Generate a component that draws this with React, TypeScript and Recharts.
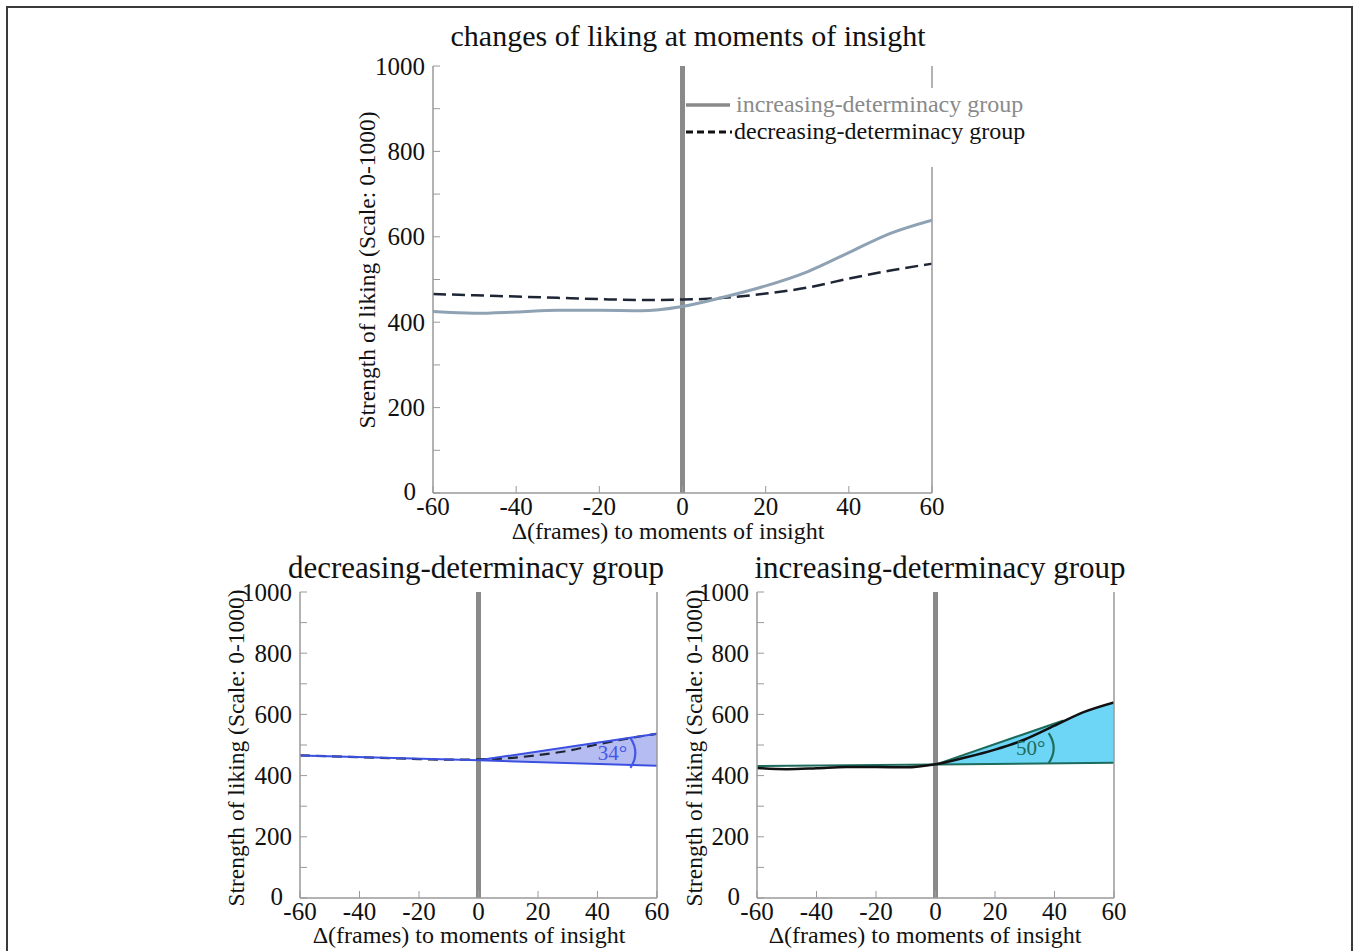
import React from "react";
import {
  ComposedChart,
  Line,
  Area,
  XAxis,
  YAxis,
  ReferenceLine,
  ReferenceDot,
  Legend,
} from "recharts";

// frames relative to the moment of insight
const frames = [-60, -50, -40, -30, -20, -10, 0, 10, 20, 30, 40, 50, 60];
const increasingLiking = [425, 421, 424, 428, 428, 427, 437, 459, 485, 518, 563, 608, 639];
const decreasingLiking = [466, 463, 460, 457, 454, 452, 453, 457, 467, 481, 502, 521, 537];

const xTicks = [-60, -40, -20, 0, 20, 40, 60];
const yTicks = [0, 100, 200, 300, 400, 500, 600, 700, 800, 900, 1000];

// fitted lines, decreasing-determinacy group
const decPreFrames = [-60, 0];
const decPre = [466, 450];
const decPostFrames = [0, 60];
const decUpper = [450, 537];
const decLower = [450, 432];

// fitted lines, increasing-determinacy group
const incPreFrames = [-60, 0];
const incPre = [431, 436];
const incUpperFrames = [0, 43];
const incUpper = [436, 580];
const incLowerFrames = [0, 60];
const incLower = [436, 442];
const incBandFrames = [0, 43, 50, 60];
const incBandLow = [436, 440, 441, 442];
const incBandHigh = [436, 580, 608, 639];

const FONT = '"Liberation Serif", "Times New Roman", serif';
const AXIS = "#9a9a9a";
const ZERO = "#8a8a8a";

const pts = (xs: number[], ys: number[]) => xs.map((f, i) => ({ f, v: ys[i] }));
const band = (xs: number[], lo: number[], hi: number[]) =>
  xs.map((f, i) => ({ f, band: [lo[i], hi[i]] }));

const incData = pts(frames, increasingLiking);
const decData = pts(frames, decreasingLiking);

// only every second y tick gets a number; the 0 sits a little further left
function YTick(props: any) {
  const { x, y, payload } = props;
  const v = payload.value as number;
  if (v % 200 !== 0) return null;
  return (
    <text
      x={v === 0 ? x - 9 : x}
      y={v === 0 ? y - 2 : y}
      textAnchor="end"
      dominantBaseline="central"
      fill="#111"
      fontSize={25}
      fontFamily={FONT}
    >
      {v}
    </text>
  );
}

function frameAxes() {
  return [
    <XAxis
      key="xb"
      dataKey="f"
      type="number"
      domain={[-60, 60]}
      ticks={xTicks}
      interval={0}
      allowDataOverflow
      height={50}
      tickSize={-7}
      tickMargin={11}
      axisLine={{ stroke: AXIS, strokeWidth: 1.5 }}
      tickLine={{ stroke: AXIS }}
      tick={{ fill: "#111", fontSize: 25, fontFamily: FONT }}
    />,
    <XAxis
      key="xt"
      xAxisId="top"
      orientation="top"
      dataKey="f"
      type="number"
      domain={[-60, 60]}
      ticks={xTicks}
      interval={0}
      allowDataOverflow
      height={0}
      tickSize={-7}
      axisLine={{ stroke: AXIS, strokeWidth: 1.5 }}
      tickLine={{ stroke: AXIS }}
      tick={false}
    />,
    <YAxis
      key="yl"
      type="number"
      domain={[0, 1000]}
      ticks={yTicks}
      interval={0}
      allowDataOverflow
      width={100}
      tickSize={-7}
      tickMargin={15}
      axisLine={{ stroke: AXIS, strokeWidth: 1.5 }}
      tickLine={{ stroke: AXIS }}
      tick={<YTick />}
    />,
    <YAxis
      key="yr"
      yAxisId="right"
      orientation="right"
      type="number"
      domain={[0, 1000]}
      ticks={yTicks}
      interval={0}
      allowDataOverflow
      width={10}
      tickSize={-7}
      axisLine={{ stroke: AXIS, strokeWidth: 1.5 }}
      tickLine={{ stroke: AXIS }}
      tick={false}
    />,
    <ReferenceLine key="zero" x={0} stroke={ZERO} strokeWidth={5} />,
  ];
}

const angleMark = (color: string, text: string) => (props: any) => {
  const { cx, cy } = props;
  return (
    <g>
      <text
        x={cx}
        y={cy}
        fill={color}
        fontSize={21}
        fontFamily={FONT}
        textAnchor="middle"
        dominantBaseline="central"
      >
        {text}
      </text>
      <path
        d={`M ${cx + 18} ${cy - 15} Q ${cx + 28} ${cy} ${cx + 18} ${cy + 15}`}
        stroke={color}
        strokeWidth={2.2}
        fill="none"
      />
    </g>
  );
};

function Txt(props: {
  cx: number;
  cy: number;
  size: number;
  rotate?: boolean;
  color?: string;
  children: React.ReactNode;
}) {
  return (
    <div
      style={{
        position: "absolute",
        left: props.cx,
        top: props.cy,
        transform: `translate(-50%, -50%)${props.rotate ? " rotate(-90deg)" : ""}`,
        fontSize: props.size,
        whiteSpace: "nowrap",
        lineHeight: 1,
        color: props.color || "#111",
      }}
    >
      {props.children}
    </div>
  );
}

function TopLegend() {
  const row = { display: "flex", alignItems: "center", height: 27 };
  return (
    <div style={{ padding: "3px 0 22px 1px", fontFamily: FONT, fontSize: 24 }}>
      <div style={row}>
        <svg width={50} height={10}>
          <line x1={0} y1={5} x2={44} y2={5} stroke="#8a8a8a" strokeWidth={3.5} />
        </svg>
        <span style={{ color: "#8a8a8a" }}>increasing-determinacy group</span>
      </div>
      <div style={row}>
        <svg width={48} height={10}>
          <line
            x1={0}
            y1={5}
            x2={46}
            y2={5}
            stroke="#111"
            strokeWidth={3}
            strokeDasharray="7 4"
          />
        </svg>
        <span style={{ color: "#111" }}>decreasing-determinacy group</span>
      </div>
    </div>
  );
}

export default function App() {
  return (
    <div
      style={{
        position: "absolute",
        left: 0,
        top: 0,
        width: 1359,
        height: 951,
        background: "#fff",
        fontFamily: FONT,
        overflow: "hidden",
      }}
    >
      <div
        style={{
          position: "absolute",
          left: 6,
          top: 6,
          width: 1343,
          height: 980,
          border: "2px solid #3a3a3a",
        }}
      />

      {/* top: both groups */}
      <Txt cx={688} cy={36} size={30}>changes of liking at moments of insight</Txt>
      <div style={{ position: "absolute", left: 333, top: 40 }}>
        <ComposedChart width={700} height={503} margin={{ top: 26, right: 91, bottom: 0, left: 0 }}>
          {frameAxes()}
          <Line
            data={decData}
            dataKey="v"
            name="decreasing-determinacy group"
            type="monotone"
            stroke="#1e2636"
            strokeWidth={2.5}
            strokeDasharray="13 6"
            dot={false}
            activeDot={false}
            isAnimationActive={false}
          />
          <Line
            data={incData}
            dataKey="v"
            name="increasing-determinacy group"
            type="monotone"
            stroke="#8fa2b4"
            strokeWidth={3}
            dot={false}
            activeDot={false}
            isAnimationActive={false}
          />
          <Legend
            layout="vertical"
            verticalAlign="middle"
            align="center"
            wrapperStyle={{ position: "absolute", left: 352, top: 48, width: 350, background: "#fff" }}
            content={() => <TopLegend />}
          />
        </ComposedChart>
      </div>
      <Txt cx={368} cy={270} size={23.5} rotate>Strength of liking (Scale: 0-1000)</Txt>
      <Txt cx={668} cy={531} size={24}>Δ(frames) to moments of insight</Txt>

      {/* bottom left: decreasing-determinacy group */}
      <Txt cx={476} cy={567} size={31}>decreasing-determinacy group</Txt>
      <div style={{ position: "absolute", left: 200, top: 572 }}>
        <ComposedChart width={470} height={376} margin={{ top: 20, right: 3, bottom: 0, left: 0 }}>
          {frameAxes()}
          <Area
            data={band(decPostFrames, decLower, decUpper)}
            dataKey="band"
            type="linear"
            fill="#b5bcf2"
            fillOpacity={1}
            stroke="none"
            isAnimationActive={false}
          />
          <Line
            data={decData}
            dataKey="v"
            type="monotone"
            stroke="#1e2636"
            strokeWidth={2.2}
            strokeDasharray="10 6"
            dot={false}
            activeDot={false}
            isAnimationActive={false}
          />
          <Line data={pts(decPreFrames, decPre)} dataKey="v" type="linear" stroke="#3b50e0" strokeWidth={2} dot={false} activeDot={false} isAnimationActive={false} />
          <Line data={pts(decPostFrames, decUpper)} dataKey="v" type="linear" stroke="#3b50e0" strokeWidth={2} dot={false} activeDot={false} isAnimationActive={false} />
          <Line data={pts(decPostFrames, decLower)} dataKey="v" type="linear" stroke="#3b50e0" strokeWidth={2} dot={false} activeDot={false} isAnimationActive={false} />
          <ReferenceDot x={45} y={474} r={1} shape={angleMark("#4457e6", "34°")} />
        </ComposedChart>
      </div>
      <Txt cx={237} cy={748} size={23.5} rotate>Strength of liking (Scale: 0-1000)</Txt>
      <Txt cx={469} cy={935} size={24}>Δ(frames) to moments of insight</Txt>

      {/* bottom right: increasing-determinacy group */}
      <Txt cx={940} cy={567} size={31}>increasing-determinacy group</Txt>
      <div style={{ position: "absolute", left: 657, top: 572 }}>
        <ComposedChart width={470} height={376} margin={{ top: 20, right: 3, bottom: 0, left: 0 }}>
          {frameAxes()}
          <Area
            data={band(incBandFrames, incBandLow, incBandHigh)}
            dataKey="band"
            type="linear"
            fill="#6dd6f6"
            fillOpacity={1}
            stroke="none"
            isAnimationActive={false}
          />
          <Line data={pts(incPreFrames, incPre)} dataKey="v" type="linear" stroke="#1c6b5c" strokeWidth={2} dot={false} activeDot={false} isAnimationActive={false} />
          <Line data={pts(incUpperFrames, incUpper)} dataKey="v" type="linear" stroke="#1c6b5c" strokeWidth={2} dot={false} activeDot={false} isAnimationActive={false} />
          <Line data={pts(incLowerFrames, incLower)} dataKey="v" type="linear" stroke="#1c6b5c" strokeWidth={2} dot={false} activeDot={false} isAnimationActive={false} />
          <Line
            data={incData}
            dataKey="v"
            type="monotone"
            stroke="#111"
            strokeWidth={2.5}
            dot={false}
            activeDot={false}
            isAnimationActive={false}
          />
          <ReferenceDot x={32} y={490} r={1} shape={angleMark("#1f6b5a", "50°")} />
        </ComposedChart>
      </div>
      <Txt cx={695} cy={748} size={23.5} rotate>Strength of liking (Scale: 0-1000)</Txt>
      <Txt cx={925} cy={935} size={24}>Δ(frames) to moments of insight</Txt>
    </div>
  );
}
